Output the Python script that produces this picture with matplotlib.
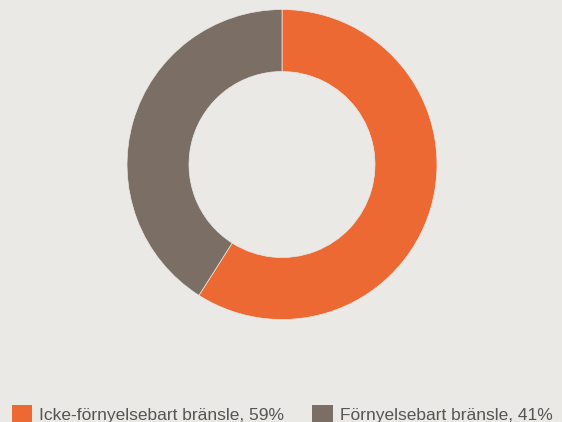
import matplotlib
matplotlib.use("Agg")
import matplotlib.pyplot as plt
from matplotlib.patches import Patch

categories = ["Icke-förnyelsebart bränsle", "Förnyelsebart bränsle"]
values = [59, 41]
colors = ["#EC6933", "#7B6E64"]
bg = "#EAE9E5"

plt.rcParams['font.family'] = ['Liberation Sans', 'DejaVu Sans']

W, H = 562, 422
fig = plt.figure(figsize=(W / 100, H / 100), dpi=100, facecolor=bg)

cx, cy, r = 282, 164.5, 155
ax = fig.add_axes([(cx - r) / W, (H - cy - r) / H, 2 * r / W, 2 * r / H])
ax.set_facecolor(bg)
ax.pie(values, colors=colors, startangle=90, counterclock=False, radius=1,
       wedgeprops=dict(width=0.4, linewidth=0.5, edgecolor=bg))
ax.set_xlim(-1, 1)
ax.set_ylim(-1, 1)
ax.set_aspect('equal')
ax.axis('off')

handles = [Patch(facecolor=c, edgecolor='none') for c in colors]
labels = [f"{c}, {v}%" for c, v in zip(categories, values)]
fig.legend(handles, labels, loc='lower left', bbox_to_anchor=(-4 / W, -17 / H),
           ncol=2, frameon=False, fontsize=12.5, labelcolor="#555555",
           handlelength=1.2, handleheight=1.25, handletextpad=0.4,
           columnspacing=1.6)

fig.savefig("out.png", dpi=100, facecolor=bg)
